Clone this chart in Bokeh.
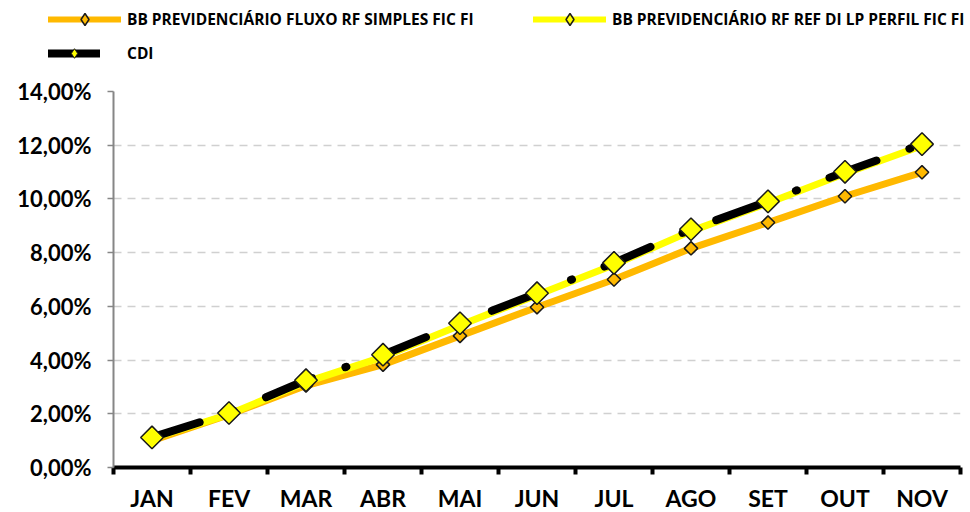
from bokeh.plotting import figure
from bokeh.models import FixedTicker, Legend, LegendItem, ColumnDataSource, Range1d
from bokeh.layouts import column
from bokeh.embed import file_html
from bokeh.resources import INLINE
import math

months = ["JAN", "FEV", "MAR", "ABR", "MAI", "JUN", "JUL", "AGO", "SET", "OUT", "NOV"]
fluxo = [1.00, 1.97, 3.05, 3.83, 4.90, 5.97, 7.00, 8.16, 9.12, 10.10, 10.99]
perfil = [1.08, 1.98, 3.18, 4.12, 5.30, 6.42, 7.55, 8.80, 9.85, 10.95, 11.98]
cdi = [1.12, 2.03, 3.25, 4.20, 5.37, 6.49, 7.62, 8.87, 9.91, 11.01, 12.04]
y_ticks = [0, 2, 4, 6, 8, 10, 12, 14]
y_labels = ["0,00%", "2,00%", "4,00%", "6,00%", "8,00%", "10,00%", "12,00%", "14,00%"]

names = ["BB PREVIDENCIÁRIO FLUXO RF SIMPLES FIC FI",
         "BB PREVIDENCIÁRIO RF REF DI LP PERFIL FIC FI",
         "CDI"]

xs = [i + 0.5 for i in range(len(months))]
ang = math.pi / 4

FLUXO_C = "#FFB900"
PERFIL_C = "#FFFF00"
EDGE = "#1A1A1A"

p = figure(frame_width=847, frame_height=376, output_backend="svg", toolbar_location=None,
           x_range=Range1d(0, len(months)), y_range=Range1d(0, 14),
           min_border_left=113, min_border_right=8, min_border_top=16, min_border_bottom=44)
p.outline_line_color = None
p.background_fill_color = "white"

src_f = ColumnDataSource(dict(x=xs, y=fluxo))
src_p = ColumnDataSource(dict(x=xs, y=perfil))
src_c = ColumnDataSource(dict(x=xs, y=cdi))

p.line("x", "y", source=src_f, line_color=FLUXO_C, line_width=7, line_join="round")
p.line("x", "y", source=src_p, line_color=PERFIL_C, line_width=7, line_join="round")
p.line("x", "y", source=src_c, line_color="black", line_width=8, line_cap="round",
       line_dash="50 35 1 35")
p.scatter("x", "y", source=src_f, marker="square", size=9.5, angle=ang,
          fill_color=FLUXO_C, line_color=EDGE, line_width=1.5)
p.scatter("x", "y", source=src_p, marker="square", size=9.5, angle=ang,
          fill_color=PERFIL_C, line_color=EDGE, line_width=1.5)
p.scatter("x", "y", source=src_c, marker="square", size=16, angle=ang,
          fill_color=PERFIL_C, line_color=EDGE, line_width=1.5)

# axes
p.yaxis.ticker = FixedTicker(ticks=y_ticks, minor_ticks=[])
p.yaxis.major_label_overrides = {t: l for t, l in zip(y_ticks, y_labels)}
p.yaxis.axis_line_color = "#868686"
p.yaxis.axis_line_width = 2
p.yaxis.major_tick_line_color = "#868686"
p.yaxis.major_tick_line_width = 1.5
p.yaxis.major_tick_in = 0
p.yaxis.major_tick_out = 6
p.yaxis.major_label_standoff = 16
p.yaxis.major_label_text_font = "Lato"
p.yaxis.major_label_text_font_style = "bold"
p.yaxis.major_label_text_font_size = "22px"
p.yaxis.major_label_text_color = "black"

p.xaxis.ticker = FixedTicker(ticks=xs, minor_ticks=list(range(len(months) + 1)))
p.xaxis.major_label_overrides = {x: m for x, m in zip(xs, months)}
p.xaxis.axis_line_color = "black"
p.xaxis.axis_line_width = 4
p.xaxis.major_tick_out = 0
p.xaxis.major_tick_in = 0
p.xaxis.minor_tick_out = 7
p.xaxis.minor_tick_in = 0
p.xaxis.minor_tick_line_width = 4
p.xaxis.minor_tick_line_color = "black"
p.xaxis.major_label_standoff = 9
p.xaxis.major_label_text_font = "Lato"
p.xaxis.major_label_text_font_style = "bold"
p.xaxis.major_label_text_font_size = "23px"
p.xaxis.major_label_text_color = "black"

p.xgrid.grid_line_color = None
p.ygrid.ticker = FixedTicker(ticks=y_ticks[1:])
p.ygrid.grid_line_color = "#D0D0D0"
p.ygrid.grid_line_width = 1.5
p.ygrid.grid_line_dash = "8 6"

# legend figure
lg = figure(frame_width=968, frame_height=75, output_backend="svg", toolbar_location=None,
            x_range=Range1d(0, 1), y_range=Range1d(0, 1),
            min_border_left=0, min_border_right=0, min_border_top=0, min_border_bottom=0)
lg.outline_line_color = None
lg.axis.visible = False
lg.grid.visible = False
off = dict(x=[-5], y=[-5])
r1l = lg.line("x", "y", source=ColumnDataSource(off), line_color=FLUXO_C, line_width=6, line_cap="round")
r1m = lg.scatter("x", "y", source=ColumnDataSource(off), marker="diamond", size=12,
                 fill_color=FLUXO_C, line_color=EDGE, line_width=1.5)
r2l = lg.line("x", "y", source=ColumnDataSource(off), line_color=PERFIL_C, line_width=6, line_cap="round")
r2m = lg.scatter("x", "y", source=ColumnDataSource(off), marker="diamond", size=12,
                 fill_color=PERFIL_C, line_color=EDGE, line_width=1.5)
r3l = lg.line("x", "y", source=ColumnDataSource(off), line_color="black", line_width=8, line_cap="round")
r3m = lg.scatter("x", "y", source=ColumnDataSource(off), marker="diamond", size=10,
                 fill_color=PERFIL_C, line_color=EDGE, line_width=1)


def style(leg, gw, gh, standoff):
    leg.background_fill_alpha = 0
    leg.border_line_color = None
    leg.padding = 0
    leg.margin = 0
    leg.glyph_width = gw
    leg.glyph_height = gh
    leg.label_height = gh
    leg.spacing = 0
    leg.label_standoff = standoff
    leg.label_text_font = "Open Sans"
    leg.label_text_font_style = "bold"
    leg.label_text_font_size = "15.5px"
    leg.label_text_color = "black"
    lg.add_layout(leg, "center")


style(Legend(items=[LegendItem(label=names[0], renderers=[r1l, r1m])], location=(48, 41)), 73, 30, 6)
style(Legend(items=[LegendItem(label=names[1], renderers=[r2l, r2m])], location=(533, 41)), 73, 30, 6)
style(Legend(items=[LegendItem(label=names[2], renderers=[r3l, r3m])], location=(48, 10)), 52, 24, 27)

layout = column(lg, p, spacing=0)
open("out.html", "w").write(file_html(layout, INLINE))
